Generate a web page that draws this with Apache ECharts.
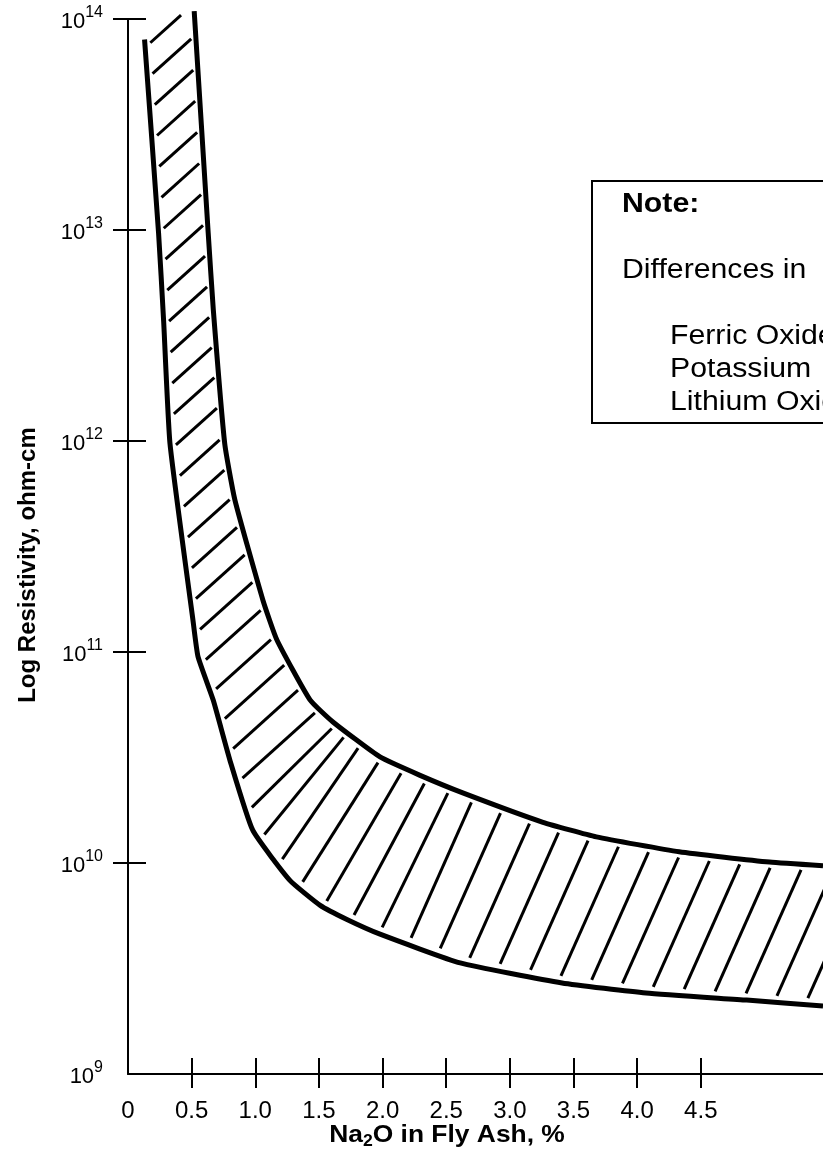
<!DOCTYPE html>
<html>
<head>
<meta charset="utf-8">
<script src="https://cdn.jsdelivr.net/npm/echarts@6/dist/echarts.min.js"></script>
<style>
html,body{margin:0;padding:0;background:#fff;}
#chart{width:823px;height:1159px;}
</style>
</head>
<body>
<div id="chart"></div>
<script>
// ---- data ----
const xTickValues = [0, 0.5, 1, 1.5, 2, 2.5, 3, 3.5, 4, 4.5];
const xTickLabels = ['0', '0.5', '1.0', '1.5', '2.0', '2.5', '3.0', '3.5', '4.0', '4.5'];
const xTickMarks = [0.5, 1, 1.5, 2, 2.5, 3, 3.5, 4, 4.5];
const yTickExponents = [9, 10, 11, 12, 13, 14];

// lower / left boundary of the band (Na2O %, resistivity ohm-cm)
const lowerX = [0.13, 0.24, 0.28, 0.33, 0.51, 0.55, 0.67, 0.80, 0.98, 1.27, 1.51, 1.72, 1.98, 2.61, 3.41, 4.07, 4.86, 5.46];
const lowerY = [8.0e13, 9.7e12, 3.7e12, 9.7e11, 1.42e11, 9.5e10, 5.9e10, 3.08e10, 1.43e10, 8.3e9, 6.3e9, 5.4e9, 4.6e9, 3.36e9, 2.7e9, 2.42e9, 2.24e9, 2.1e9];

// upper / right boundary of the band
const upperX = [0.52, 0.63, 0.67, 0.76, 0.84, 1.06, 1.17, 1.43, 1.61, 1.98, 2.29, 2.63, 3.26, 3.68, 4.33, 5.04, 5.46];
const upperY = [1.09e14, 9.7e12, 4.2e12, 9.7e11, 5.25e11, 1.76e11, 1.14e11, 5.93e10, 4.66e10, 3.18e10, 2.61e10, 2.15e10, 1.56e10, 1.33e10, 1.13e10, 1.01e10, 9.7e9];

const xTitle = ['Na', '2', 'O in Fly Ash, %'];
const yTitle = 'Log Resistivity, ohm-cm';
const noteTitle = 'Note:';
const noteIntro = 'Differences in';
const noteItems = ['Ferric Oxide', 'Potassium', 'Lithium Oxide'];

// ---- chart ----
const FONT = '"Liberation Sans", Arial, Helvetica, sans-serif';
const yTickValues = yTickExponents.map(e => Math.pow(10, e));
const chart = echarts.init(document.getElementById('chart'), null, {renderer: 'canvas'});

// hatch styling: angle (deg) along the lower boundary arc length (px)
const HATCH_ANGLE_S = [0, 770, 835, 1000, 5000];
const HATCH_ANGLE_A = [42, 42, 55, 66, 66];

function hatchRender(params, api) {
  const L = lowerX.map((x, i) => api.coord([x, lowerY[i]]));
  const U0 = upperX.map((x, i) => api.coord([x, upperY[i]]));
  function ext(p, q, d) {
    const dx = p[0] - q[0], dy = p[1] - q[1], l = Math.hypot(dx, dy);
    return [p[0] + dx / l * d, p[1] + dy / l * d];
  }
  const U = [ext(U0[0], U0[1], 60)].concat(U0, [ext(U0[U0.length - 1], U0[U0.length - 2], 120)]);
  const cL = [0];
  for (let i = 1; i < L.length; i++) cL.push(cL[i - 1] + Math.hypot(L[i][0] - L[i - 1][0], L[i][1] - L[i - 1][1]));
  const totL = cL[cL.length - 1];
  function at(s) {
    for (let i = 1; i < L.length; i++) {
      if (s <= cL[i]) {
        const t = (s - cL[i - 1]) / (cL[i] - cL[i - 1]);
        return [L[i - 1][0] + t * (L[i][0] - L[i - 1][0]), L[i - 1][1] + t * (L[i][1] - L[i - 1][1])];
      }
    }
    return L[L.length - 1].slice();
  }
  function angleAt(s) {
    for (let i = 1; i < HATCH_ANGLE_S.length; i++) {
      if (s <= HATCH_ANGLE_S[i]) {
        const t = (s - HATCH_ANGLE_S[i - 1]) / (HATCH_ANGLE_S[i] - HATCH_ANGLE_S[i - 1]);
        return HATCH_ANGLE_A[i - 1] + t * (HATCH_ANGLE_A[i] - HATCH_ANGLE_A[i - 1]);
      }
    }
    return HATCH_ANGLE_A[HATCH_ANGLE_A.length - 1];
  }
  function hit(a, d) {
    let best = null;
    for (let i = 1; i < U.length; i++) {
      const p = U[i - 1], q = U[i];
      const ex = q[0] - p[0], ey = q[1] - p[1];
      const den = d[0] * ey - d[1] * ex;
      if (Math.abs(den) < 1e-9) continue;
      const wx = p[0] - a[0], wy = p[1] - a[1];
      const t = (wx * ey - wy * ex) / den;
      const u = (wx * d[1] - wy * d[0]) / den;
      if (t > 0 && u >= 0 && u <= 1 && (best === null || t < best)) best = t;
    }
    return best;
  }
  const spacing = 31, gapA = 7, gapB = 6;
  const topLimit = U0[0][1] + 4;
  const children = [];
  for (let s = 8; s < totL; s += spacing) {
    const a = at(s);
    const ang = angleAt(s) * Math.PI / 180;
    const d = [Math.cos(ang), -Math.sin(ang)];
    let t = hit(a, d);
    if (t === null) continue;
    t = t - gapB;
    const yEnd = a[1] + d[1] * t;
    if (yEnd < topLimit) t = (topLimit - a[1]) / d[1];
    if (t < gapA + 4) continue;
    children.push({
      type: 'line',
      shape: {x1: a[0] + d[0] * gapA, y1: a[1] + d[1] * gapA, x2: a[0] + d[0] * t, y2: a[1] + d[1] * t},
      style: {stroke: '#000', lineWidth: 3, lineCap: 'butt'}
    });
  }
  return {type: 'group', children: children};
}

const option = {
  animation: false,
  backgroundColor: '#fff',
  grid: {left: 128, top: 19, bottom: 85, right: 0, containLabel: false},
  xAxis: [
    {
      type: 'value', position: 'bottom', min: 0, max: 5.46,
      axisLine: {show: true, onZero: false, lineStyle: {color: '#000', width: 2}},
      axisTick: {show: true, inside: false, length: 14, customValues: xTickMarks, lineStyle: {color: '#000', width: 2}},
      axisLabel: {
        show: true, margin: 25, customValues: xTickValues, color: '#000',
        fontFamily: FONT, fontSize: 24,
        formatter: function (v) {
          const i = xTickValues.findIndex(t => Math.abs(t - v) < 1e-9);
          return i >= 0 ? xTickLabels[i] : '';
        }
      },
      splitLine: {show: false}
    },
    {
      type: 'value', position: 'bottom', min: 0, max: 5.46,
      axisLine: {show: false, onZero: false},
      axisTick: {show: true, inside: true, length: 16, customValues: xTickMarks, lineStyle: {color: '#000', width: 2}},
      axisLabel: {show: false},
      splitLine: {show: false}
    }
  ],
  yAxis: [
    {
      type: 'log', logBase: 10, position: 'left', min: 1e9, max: 1e14,
      axisLine: {show: true, onZero: false, lineStyle: {color: '#000', width: 2}},
      axisTick: {show: true, inside: false, length: 15, customValues: yTickValues.slice(1), lineStyle: {color: '#000', width: 2}},
      axisLabel: {
        show: true, margin: 25, color: '#000',
        formatter: function (v) {
          const e = Math.round(Math.log10(v));
          return yTickExponents.indexOf(e) >= 0 ? '{b|10}{s|' + e + '}' : '';
        },
        rich: {
          b: {fontFamily: FONT, fontSize: 22, color: '#000', lineHeight: 28, verticalAlign: 'bottom'},
          s: {fontFamily: FONT, fontSize: 16, color: '#000', verticalAlign: 'top', lineHeight: 16}
        }
      },
      splitLine: {show: false}
    },
    {
      type: 'log', logBase: 10, position: 'left', min: 1e9, max: 1e14,
      axisLine: {show: false, onZero: false},
      axisTick: {show: true, inside: true, length: 18, lineStyle: {color: '#000', width: 2}},
      axisLabel: {show: false},
      splitLine: {show: false}
    }
  ],
  series: [
    {
      type: 'custom', name: 'hatch', xAxisIndex: 0, yAxisIndex: 0,
      data: [[0, 1e12]], renderItem: hatchRender, clip: false, silent: true, z: 2
    },
    {
      type: 'line', name: 'lower', xAxisIndex: 0, yAxisIndex: 0,
      data: lowerX.map((x, i) => [x, lowerY[i]]),
      symbol: 'none', clip: false, silent: true, z: 3, smooth: 0.15,
      lineStyle: {color: '#000', width: 5, join: 'round', cap: 'butt'}
    },
    {
      type: 'line', name: 'upper', xAxisIndex: 0, yAxisIndex: 0,
      data: upperX.map((x, i) => [x, upperY[i]]),
      symbol: 'none', clip: false, silent: true, z: 3, smooth: 0.15,
      lineStyle: {color: '#000', width: 5, join: 'round', cap: 'butt'}
    }
  ],
  graphic: [
    {
      type: 'text', x: 447, y: 1135, z: 10, scaleX: 1.1,
      style: {
        text: '{b|' + xTitle[0] + '}{s|' + xTitle[1] + '}{b|' + xTitle[2] + '}',
        textAlign: 'center', textVerticalAlign: 'middle', align: 'center', verticalAlign: 'middle',
        rich: {
          b: {fontFamily: FONT, fontWeight: 'bold', fontSize: 24, fill: '#000', color: '#000', lineHeight: 30},
          s: {fontFamily: FONT, fontWeight: 'bold', fontSize: 16, fill: '#000', color: '#000', verticalAlign: 'bottom', lineHeight: 16}
        }
      }
    },
    {
      type: 'text', x: 28, y: 565, rotation: Math.PI / 2, z: 10,
      style: {
        text: yTitle, font: 'bold 24px ' + FONT, fill: '#000',
        textAlign: 'center', textVerticalAlign: 'middle', align: 'center', verticalAlign: 'middle'
      }
    },
    {
      type: 'rect', z: 10,
      shape: {x: 592, y: 181, width: 300, height: 242},
      style: {fill: '#fff', stroke: '#000', lineWidth: 2}
    },
    {
      type: 'text', x: 622, y: 205, z: 11, scaleX: 1.12,
      style: {text: noteTitle, font: 'bold 27px ' + FONT, fill: '#000', textVerticalAlign: 'middle', verticalAlign: 'middle'}
    },
    {
      type: 'text', x: 622, y: 271, z: 11, scaleX: 1.12,
      style: {text: noteIntro, font: '27px ' + FONT, fill: '#000', textVerticalAlign: 'middle', verticalAlign: 'middle'}
    },
    {
      type: 'text', x: 670, y: 337, z: 11, scaleX: 1.12,
      style: {text: noteItems[0], font: '27px ' + FONT, fill: '#000', textVerticalAlign: 'middle', verticalAlign: 'middle'}
    },
    {
      type: 'text', x: 670, y: 370, z: 11, scaleX: 1.12,
      style: {text: noteItems[1], font: '27px ' + FONT, fill: '#000', textVerticalAlign: 'middle', verticalAlign: 'middle'}
    },
    {
      type: 'text', x: 670, y: 403, z: 11, scaleX: 1.12,
      style: {text: noteItems[2], font: '27px ' + FONT, fill: '#000', textVerticalAlign: 'middle', verticalAlign: 'middle'}
    }
  ]
};
chart.setOption(option);
</script>
</body>
</html>
